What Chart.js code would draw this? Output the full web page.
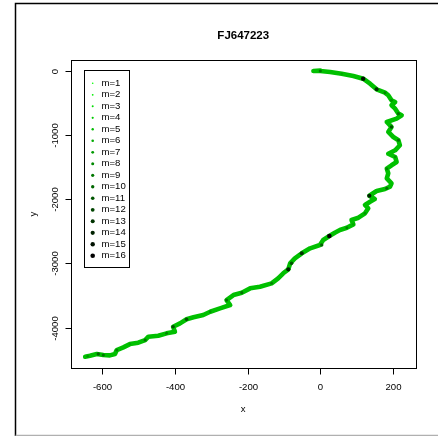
<!DOCTYPE html>
<html>
<head>
<meta charset="utf-8">
<script src="https://cdn.jsdelivr.net/npm/chart.js@4/dist/chart.umd.min.js"></script>
<style>
  html, body { margin: 0; padding: 0; background: #fff; }
  #wrap { width: 438px; height: 436px; }
</style>
</head>
<body>
<div id="wrap"><canvas id="chart" width="438" height="436"></canvas></div>
<script>
// walk coordinates
const walkX = [0, -19, 0, 27, 59, 91, 118, 137, 155, 178, 187, 196, 206, 196, 206, 215, 224, 210, 183, 192,
  196, 187, 201, 215, 219, 206, 187, 206, 210, 196, 183, 187, 183, 196, 192, 178, 155, 135, 150, 137,
  123, 132, 123, 105, 86, 91, 73, 54, 40, 25, 8, -1, -28, -51, -70, -83, -88, -102, -116, -134,
  -166, -193, -216, -239, -258, -248, -276, -303, -322, -349, -368, -386, -405, -400, -423, -446, -473, -482, -501, -524,
  -542, -560, -565, -579, -597, -615, -634, -647];
const walkY = [0, -5, -5, -20, -47, -82, -125, -202, -290, -342, -383, -461, -487, -539, -591, -669, -694, -747, -798, -850,
  -876, -954, -1032, -1083, -1161, -1239, -1292, -1343, -1421, -1472, -1525, -1597, -1675, -1753, -1805, -1841, -1872, -1946, -1997, -2039,
  -2090, -2142, -2219, -2288, -2324, -2391, -2444, -2479, -2521, -2573, -2635, -2713, -2764, -2842, -2920, -2998, -3091, -3153, -3231, -3309,
  -3362, -3387, -3455, -3491, -3569, -3647, -3698, -3751, -3802, -3838, -3869, -3932, -3984, -4062, -4087, -4125, -4140, -4191, -4233, -4254,
  -4305, -4347, -4409, -4430, -4425, -4409, -4436, -4451];

// darker marks (class m) spotted along the walk
const dotM = [9, 15, 13, 8, 7, 9, 11, 9, 7, 8, 9, 14, 7, 8, 16, 10, 13, 11, 14, 8,
  9, 9, 7, 11, 11, 8, 9, 8, 10, 9, 7, 6, 5, 6, 5, 6];
const dotX = [0, 118, 155, 178, 196, 215, 196, 215, 206, 183, 183, 135, 123, 73, 25, 4, -51, -79, -88, -134,
  -216, -258, -303, -368, -405, -423, -482, -560, -611, -597, -640, 59, 187, 91, -193, -524];
const dotY = [-5, -125, -290, -342, -461, -669, -876, -1083, -1343, -1525, -1830, -1946, -2219, -2444, -2573, -2713, -2842, -2998, -3091, -3309,
  -3455, -3569, -3751, -3869, -3984, -4087, -4191, -4347, -4409, -4425, -4445, -47, -954, -2391, -3387, -4254];

const classes = ['m=1', 'm=2', 'm=3', 'm=4', 'm=5', 'm=6', 'm=7', 'm=8',
  'm=9', 'm=10', 'm=11', 'm=12', 'm=13', 'm=14', 'm=15', 'm=16'];
const xTicks = [-600, -400, -200, 0, 200];
const yTicks = [0, -1000, -2000, -3000, -4000];
const title = 'FJ647223';

const FONT = '"Liberation Sans", Arial, sans-serif';

// green -> black ramp
function classColor(i) {
  const g = Math.round(255 * (classes.length - 1 - i) / (classes.length - 1));
  return 'rgb(0,' + g + ',0)';
}
function classRadius(i) {
  return 0.8 + i * 0.1;
}

const datasets = classes.map((label, i) => {
  const pts = [];
  dotM.forEach((m, k) => {
    if (m === i + 1) pts.push({ x: dotX[k], y: dotY[k] });
  });
  return {
    label: label,
    data: pts,
    showLine: false,
    pointRadius: classRadius(i),
    pointBackgroundColor: classColor(i),
    pointBorderWidth: 0,
    pointHoverRadius: classRadius(i)
  };
});
datasets.push({
  label: 'walk',
  data: walkX.map((x, i) => ({ x: x, y: walkY[i] })),
  showLine: true,
  borderColor: '#00c000',
  borderWidth: 4.6,
  borderJoinStyle: 'round',
  borderCapStyle: 'round',
  pointRadius: 0,
  tension: 0
});

// R style frame, axes and legend
const rFrame = {
  id: 'rFrame',
  afterDatasetsDraw(chart) {
    const ctx = chart.ctx;
    const a = chart.chartArea;
    const xs = chart.scales.x, ys = chart.scales.y;
    ctx.save();

    // outer figure border
    ctx.strokeStyle = '#000';
    ctx.lineWidth = 1.5;
    ctx.beginPath();
    ctx.moveTo(438, 3.5);
    ctx.lineTo(15.5, 3.5);
    ctx.lineTo(15.5, 436);
    ctx.stroke();
    ctx.strokeStyle = '#b0b0b0';
    ctx.lineWidth = 1.5;
    ctx.beginPath();
    ctx.moveTo(15.5, 435.5);
    ctx.lineTo(438, 435.5);
    ctx.stroke();

    // plot box
    ctx.strokeStyle = '#000';
    ctx.lineWidth = 1;
    ctx.strokeRect(Math.round(a.left) + 0.5, Math.round(a.top) + 0.5,
      Math.round(a.right - a.left), Math.round(a.bottom - a.top));

    ctx.fillStyle = '#000';
    ctx.font = '9.6px ' + FONT;
    ctx.textAlign = 'center';
    ctx.textBaseline = 'middle';
    const bottom = Math.round(a.bottom) + 0.5;
    const left = Math.round(a.left) + 0.5;
    xTicks.forEach(v => {
      const px = Math.round(xs.getPixelForValue(v)) + 0.5;
      ctx.beginPath();
      ctx.moveTo(px, bottom);
      ctx.lineTo(px, bottom + 6);
      ctx.stroke();
      ctx.fillText(String(v), px, a.bottom + 19);
    });
    yTicks.forEach(v => {
      const py = Math.round(ys.getPixelForValue(v)) + 0.5;
      ctx.beginPath();
      ctx.moveTo(left, py);
      ctx.lineTo(left - 6, py);
      ctx.stroke();
      ctx.save();
      ctx.translate(a.left - 16, py);
      ctx.rotate(-Math.PI / 2);
      ctx.fillText(String(v), 0, 0);
      ctx.restore();
    });

    // axis titles and main title
    const cx = (a.left + a.right) / 2;
    const cy = (a.top + a.bottom) / 2;
    ctx.fillText('x', cx, a.bottom + 41);
    ctx.save();
    ctx.translate(a.left - 38, cy);
    ctx.rotate(-Math.PI / 2);
    ctx.fillText('y', 0, 0);
    ctx.restore();
    ctx.font = 'bold 11.5px ' + FONT;
    ctx.fillText(title, cx, 36);

    // legend
    const lx = 84.5, ly = 70.5, lw = 45, lh = 197;
    ctx.fillStyle = '#fff';
    ctx.fillRect(lx, ly, lw, lh);
    ctx.strokeStyle = '#000';
    ctx.lineWidth = 1;
    ctx.strokeRect(lx, ly, lw, lh);
    ctx.font = '9.6px ' + FONT;
    ctx.textAlign = 'left';
    chart.data.datasets.forEach((ds, i) => {
      if (ds.label === 'walk') return;
      const y = 83.3 + i * 11.5;
      ctx.fillStyle = ds.pointBackgroundColor;
      ctx.beginPath();
      ctx.arc(92.7, y, ds.pointRadius, 0, Math.PI * 2);
      ctx.fill();
      ctx.fillStyle = '#000';
      ctx.fillText(ds.label, 101.5, y);
    });
    ctx.restore();
  }
};

new Chart(document.getElementById('chart'), {
  type: 'scatter',
  data: { datasets: datasets },
  options: {
    responsive: false,
    animation: false,
    devicePixelRatio: 1,
    layout: { padding: { left: 71, top: 60, right: 22.5, bottom: 67.7 } },
    plugins: {
      legend: { display: false },
      tooltip: { enabled: false }
    },
    scales: {
      x: { type: 'linear', display: false, min: -686, max: 262 },
      y: { type: 'linear', display: false, min: -4631, max: 166 }
    }
  },
  plugins: [rFrame]
});
</script>
</body>
</html>
